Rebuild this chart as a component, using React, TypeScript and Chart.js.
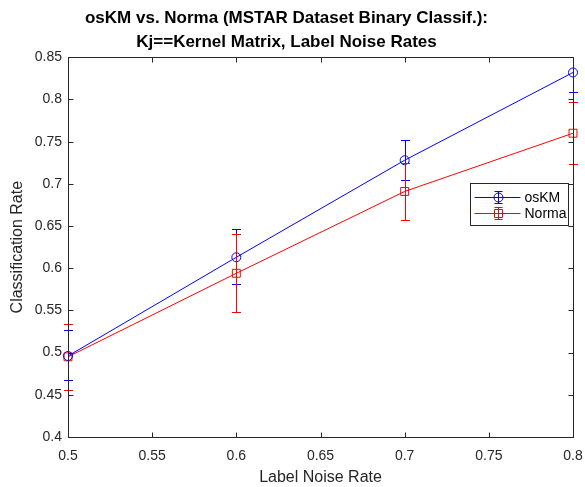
import React, { useEffect, useRef } from "react";
import { Chart, registerables } from "chart.js";

Chart.register(...registerables);

const noiseRates = [0.5, 0.6, 0.7, 0.8];
const osKMRate = [0.496, 0.613, 0.728, 0.832];
const osKMLow = [0.467, 0.581, 0.704, 0.809];
const osKMHigh = [0.527, 0.646, 0.752, 0.855];
const normaRate = [0.495, 0.594, 0.691, 0.76];
const normaLow = [0.456, 0.548, 0.657, 0.723];
const normaHigh = [0.534, 0.641, 0.725, 0.797];
const xTickValues = [0.5, 0.55, 0.6, 0.65, 0.7, 0.75, 0.8];
const yTickValues = [0.4, 0.45, 0.5, 0.55, 0.6, 0.65, 0.7, 0.75, 0.8, 0.85];
const seriesNames = ["osKM", "Norma"];

const FONT = "'Liberation Sans', Arial, Helvetica, sans-serif";
const AXIS = "#262626";

const errorBars = [
  { low: osKMLow, high: osKMHigh, color: "#0000ff" },
  { low: normaLow, high: normaHigh, color: "#ff0000" },
];

const errorBarPlugin = {
  id: "errorBars",
  afterDatasetsDraw(chart: any) {
    const { ctx, chartArea } = chart;
    const xs = chart.scales.x;
    const ys = chart.scales.y;
    ctx.save();
    ctx.lineWidth = 1;
    errorBars.forEach((eb) => {
      ctx.strokeStyle = eb.color;
      noiseRates.forEach((xv, i) => {
        const x = Math.round(xs.getPixelForValue(xv)) + 0.5;
        const yLowRaw = ys.getPixelForValue(eb.low[i]);
        const yHighRaw = ys.getPixelForValue(eb.high[i]);
        const yLow = Math.min(yLowRaw, chartArea.bottom);
        const yHigh = Math.max(yHighRaw, chartArea.top);
        ctx.beginPath();
        ctx.moveTo(x, yLow);
        ctx.lineTo(x, yHigh);
        ctx.stroke();
        const caps = [yLowRaw, yHighRaw];
        caps.forEach((c) => {
          if (c >= chartArea.top && c <= chartArea.bottom) {
            const cy = Math.round(c) + 0.5;
            ctx.beginPath();
            ctx.moveTo(x - 4.5, cy);
            ctx.lineTo(x + 4.5, cy);
            ctx.stroke();
          }
        });
      });
    });
    ctx.restore();
  },
};

const boxPlugin = {
  id: "matlabBox",
  afterDraw(chart: any) {
    const { ctx, chartArea } = chart;
    const xs = chart.scales.x;
    const ys = chart.scales.y;
    const l = Math.round(chartArea.left) + 0.5;
    const r = Math.round(chartArea.right) + 0.5;
    const t = Math.round(chartArea.top) + 0.5;
    const b = Math.round(chartArea.bottom) + 0.5;
    const tl = 5;
    ctx.save();
    ctx.strokeStyle = AXIS;
    ctx.lineWidth = 1;
    ctx.beginPath();
    ctx.rect(l, t, r - l, b - t);
    ctx.stroke();
    xTickValues.forEach((v) => {
      const x = Math.round(xs.getPixelForValue(v)) + 0.5;
      ctx.beginPath();
      ctx.moveTo(x, b);
      ctx.lineTo(x, b - tl);
      ctx.moveTo(x, t);
      ctx.lineTo(x, t + tl);
      ctx.stroke();
    });
    yTickValues.forEach((v) => {
      const y = Math.round(ys.getPixelForValue(v)) + 0.5;
      ctx.beginPath();
      ctx.moveTo(l, y);
      ctx.lineTo(l + tl, y);
      ctx.moveTo(r, y);
      ctx.lineTo(r - tl, y);
      ctx.stroke();
    });

    // legend
    const bx = 470.5, by = 183.5, bw = 98, bh = 42;
    ctx.fillStyle = "#ffffff";
    ctx.fillRect(bx, by, bw, bh);
    ctx.strokeStyle = AXIS;
    ctx.strokeRect(bx, by, bw, bh);
    const colors = ["#0000ff", "#ff0000"];
    seriesNames.forEach((name, i) => {
      const y = Math.round(by + 13 + i * 16) + 0.5;
      const c = colors[i];
      ctx.strokeStyle = c;
      ctx.beginPath();
      ctx.moveTo(bx + 4, y);
      ctx.lineTo(bx + 50, y);
      ctx.stroke();
      const mx = Math.round(bx + 27) + 0.5;
      ctx.beginPath();
      ctx.moveTo(mx, y - 6);
      ctx.lineTo(mx, y + 6);
      ctx.moveTo(mx - 4, y - 6);
      ctx.lineTo(mx + 4, y - 6);
      ctx.moveTo(mx - 4, y + 6);
      ctx.lineTo(mx + 4, y + 6);
      ctx.stroke();
      ctx.beginPath();
      if (i === 0) {
        ctx.arc(mx, y, 4.5, 0, Math.PI * 2);
      } else {
        ctx.rect(mx - 4, y - 4, 8, 8);
      }
      ctx.stroke();
      ctx.fillStyle = "#000000";
      ctx.font = `14px ${FONT}`;
      ctx.textBaseline = "middle";
      ctx.textAlign = "left";
      ctx.fillText(name, bx + 54, y + 0.5);
    });
    ctx.restore();
  },
};

export default function App() {
  const canvasRef = useRef<HTMLCanvasElement | null>(null);

  useEffect(() => {
    document.body.style.margin = "0";
    const canvas = canvasRef.current;
    if (!canvas) return;
    const chart = new Chart(canvas, {
      type: "line",
      data: {
        datasets: [
          {
            label: seriesNames[0],
            data: noiseRates.map((x, i) => ({ x, y: osKMRate[i] })),
            borderColor: "#0000ff",
            backgroundColor: "rgba(0,0,0,0)",
            borderWidth: 1,
            pointStyle: "circle",
            pointRadius: 4.5,
            pointBorderWidth: 1,
            pointBorderColor: "#0000ff",
            pointBackgroundColor: "rgba(0,0,0,0)",
            clip: 8,
            tension: 0,
          },
          {
            label: seriesNames[1],
            data: noiseRates.map((x, i) => ({ x, y: normaRate[i] })),
            borderColor: "#ff0000",
            backgroundColor: "rgba(0,0,0,0)",
            borderWidth: 1,
            pointStyle: "rect",
            pointRadius: 5.6,
            pointBorderWidth: 1,
            pointBorderColor: "#ff0000",
            pointBackgroundColor: "rgba(0,0,0,0)",
            clip: 8,
            tension: 0,
          },
        ],
      },
      options: {
        responsive: false,
        animation: false,
        events: [],
        layout: { padding: { left: 0, right: 12, top: 0, bottom: 0 } },
        plugins: {
          legend: { display: false },
          tooltip: { enabled: false },
          title: {
            display: true,
            text: [
              "osKM vs. Norma (MSTAR Dataset Binary Classif.):",
              "Kj==Kernel Matrix, Label Noise Rates",
            ],
            color: "#000000",
            font: { family: FONT, size: 17, weight: "bold", lineHeight: 1.42 },
            padding: { top: 6, bottom: 3 },
          },
        },
        scales: {
          x: {
            type: "linear",
            min: 0.5,
            max: 0.8,
            afterBuildTicks: (scale: any) => {
              scale.ticks = xTickValues.map((v) => ({ value: v }));
            },
            afterFit: (scale: any) => {
              scale.height = 50;
              scale.paddingLeft = 0;
              scale.paddingRight = 0;
            },
            grid: { display: false, drawTicks: false },
            border: { display: true, color: AXIS },
            ticks: {
              color: AXIS,
              font: { family: FONT, size: 14 },
              padding: 11,
              maxRotation: 0,
              callback: (v: any) => String(Math.round(Number(v) * 100) / 100),
            },
            title: {
              display: true,
              text: "Label Noise Rate",
              color: AXIS,
              font: { family: FONT, size: 16 },
              padding: { top: 0, bottom: 0 },
            },
          },
          y: {
            type: "linear",
            min: 0.4,
            max: 0.85,
            afterBuildTicks: (scale: any) => {
              scale.ticks = yTickValues.map((v) => ({ value: v }));
            },
            afterFit: (scale: any) => {
              scale.width = 68;
              scale.paddingTop = 0;
              scale.paddingBottom = 0;
            },
            grid: { display: false, drawTicks: false },
            border: { display: true, color: AXIS },
            ticks: {
              color: AXIS,
              font: { family: FONT, size: 14 },
              padding: 6,
              callback: (v: any) => String(Math.round(Number(v) * 100) / 100),
            },
            title: {
              display: true,
              text: "Classification Rate",
              color: AXIS,
              font: { family: FONT, size: 16 },
              padding: { top: 8, bottom: 0 },
            },
          },
        },
      },
      plugins: [errorBarPlugin, boxPlugin],
    } as any);
    return () => chart.destroy();
  }, []);

  return (
    <div style={{ width: 585, height: 487 }}>
      <canvas ref={canvasRef} width={585} height={487} />
    </div>
  );
}
